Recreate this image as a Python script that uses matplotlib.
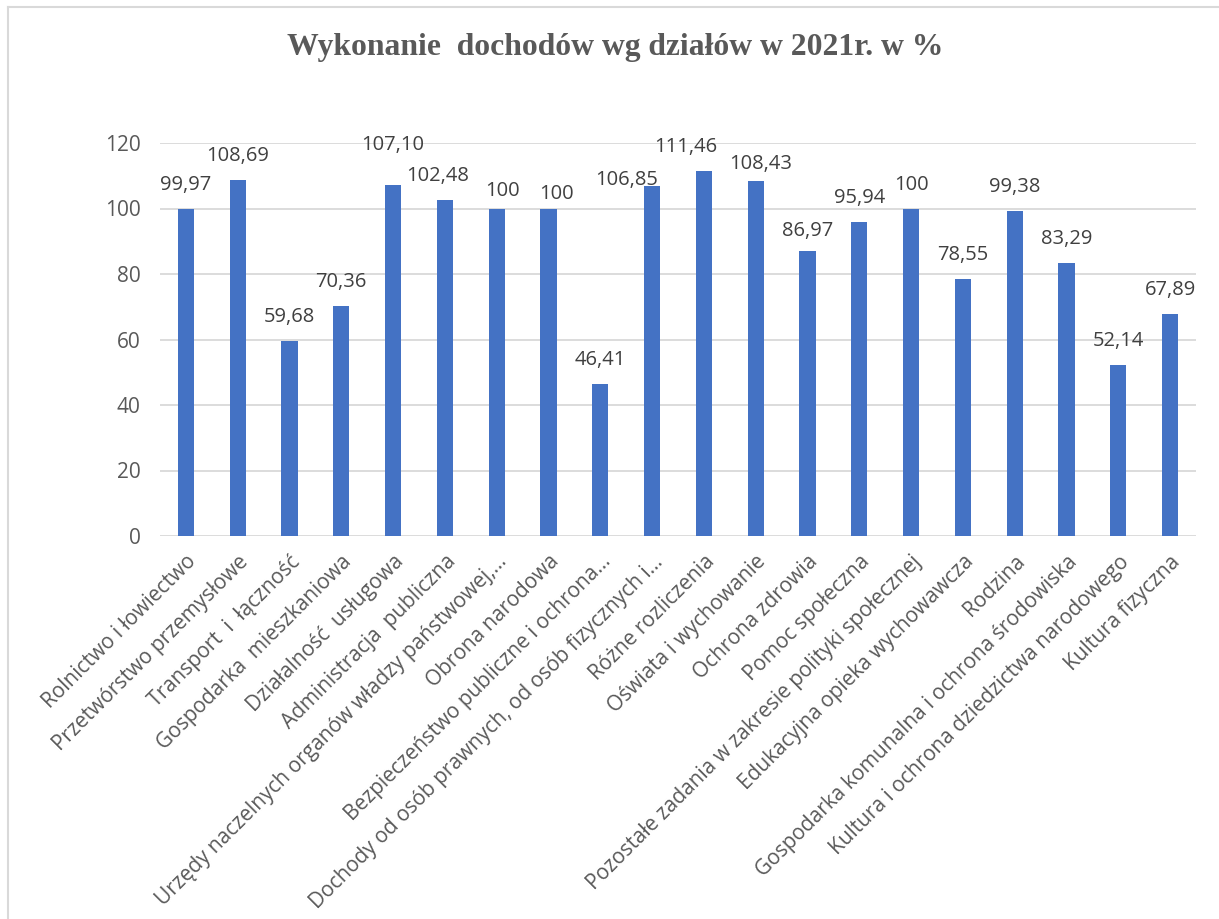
import matplotlib
matplotlib.use("Agg")
import matplotlib.pyplot as plt
from matplotlib.lines import Line2D

# dane: wykonanie dochodów wg działów (%)
categories = [
    "Rolnictwo i łowiectwo",
    "Przetwórstwo przemysłowe",
    "Transport  i  łączność",
    "Gospodarka  mieszkaniowa",
    "Działalność  usługowa",
    "Administracja  publiczna",
    "Urzędy naczelnych organów władzy państwowej,…",
    "Obrona narodowa",
    "Bezpieczeństwo publiczne i ochrona…",
    "Dochody od osób prawnych, od osób fizycznych i…",
    "Różne rozliczenia",
    "Oświata i wychowanie",
    "Ochrona zdrowia",
    "Pomoc społeczna",
    "Pozostałe zadania w zakresie polityki społecznej",
    "Edukacyjna opieka wychowawcza",
    "Rodzina",
    "Gospodarka komunalna i ochrona środowiska",
    "Kultura i ochrona dziedzictwa narodowego",
    "Kultura fizyczna",
]
values = [99.97, 108.69, 59.68, 70.36, 107.10, 102.48, 100, 100, 46.41, 106.85,
          111.46, 108.43, 86.97, 95.94, 100, 78.55, 99.38, 83.29, 52.14, 67.89]
labels = ["99,97", "108,69", "59,68", "70,36", "107,10", "102,48", "100", "100",
          "46,41", "106,85", "111,46", "108,43", "86,97", "95,94", "100", "78,55",
          "99,38", "83,29", "52,14", "67,89"]

# ręczne przesunięcia etykiet (jak w Excelu)
lab_dx = [0, 0, 0, 0, 0, -0.14, 0.11, 0.15, 0, -0.5,
          -0.36, 0.1, 0, 0, 0, 0, 0, 0, 0, 0]
lab_dy = [0, 0, 0, 0, 5, 0, -2, -3, 0, -5.3,
          0, -2, -1, 0, 0, 0, 0, 0, 0, 0]

gray = "#595959"
fnt = "Open Sans"

fig = plt.figure(figsize=(12.19, 9.19), dpi=100)
ax = fig.add_axes([160 / 1219, 1 - 536 / 919, 1036 / 1219, 393 / 919])

x = range(len(values))
ax.bar(x, values, width=0.31, color="#4472C4", zorder=3)

for i, v in enumerate(values):
    ax.text(i + lab_dx[i], v + 7.3 + lab_dy[i], labels[i], ha="center", va="center",
            fontsize=14.5, color="#404040", family=fnt, zorder=4)

ax.set_xlim(-0.5, len(values) - 0.5)
ax.set_ylim(0, 120)
ax.set_yticks(range(0, 121, 20))
ax.yaxis.grid(True, color="#D9D9D9", linewidth=1.3, zorder=0)
ax.set_axisbelow(True)
for s in ax.spines.values():
    s.set_visible(False)
ax.tick_params(axis="both", length=0, colors=gray, labelsize=15)
ax.tick_params(axis="y", pad=14)
ax.tick_params(axis="x", pad=11)
ax.set_xticks(list(x))
ax.set_xticklabels(categories, rotation=45, ha="right", rotation_mode="anchor",
                   family=fnt)
for t in ax.get_yticklabels():
    t.set_family(fnt)

fig.text(0.505, 1 - 47 / 919, "Wykonanie  dochodów wg działów w 2021r. w %",
         ha="center", va="center", fontsize=22.8, fontweight="bold",
         family="Liberation Serif", color=gray)

# ramka wykresu
fig.add_artist(Line2D([8 / 1219, 8 / 1219], [0, 1 - 7 / 919], color="#D9D9D9", lw=1.5))
fig.add_artist(Line2D([8 / 1219, 1], [1 - 7 / 919, 1 - 7 / 919], color="#D9D9D9", lw=1.5))

fig.savefig("out.png", dpi=100)
